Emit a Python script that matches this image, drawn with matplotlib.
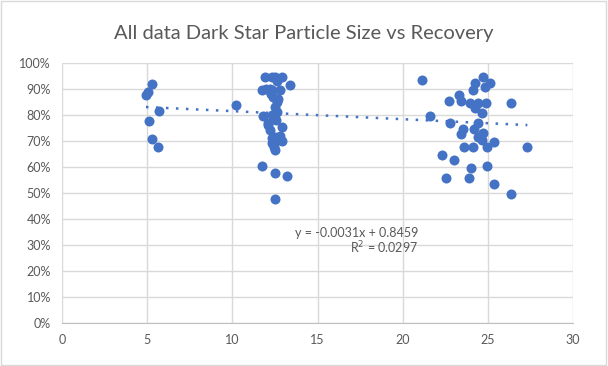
import matplotlib
matplotlib.use('Agg')
import matplotlib.pyplot as plt
from matplotlib.ticker import PercentFormatter
import numpy as np

# particle size (x) and recovery (y, fraction)
size = [4.93, 5.07, 5.27, 5.71, 5.13, 5.30, 5.66,
        10.2,
        11.92, 12.5, 12.9, 13.39, 11.73, 12.31, 12.8, 12.4, 12.6, 12.5,
        12.6, 11.8, 12.3, 12.9, 12.1, 12.2, 12.5, 12.7, 12.3, 12.45, 12.5,
        11.73, 12.5, 13.2, 12.5, 12.2, 12.7, 12.0, 12.55,
        12.3, 12.8, 12.35, 12.9, 12.1, 12.6, 12.25,
        21.12, 24.74, 24.25, 25.13, 24.84, 24.15, 23.33, 22.72, 23.41,
        23.96, 24.45, 24.9, 26.35, 24.25, 24.64, 21.6, 22.78, 24.45,
        23.53, 24.21, 23.41, 24.74, 24.45, 24.64, 25.37, 23.62, 24.15,
        24.93, 27.32, 22.31, 23.02, 24.02, 24.94, 22.53, 23.92, 25.37, 26.35]
recovery = [0.877, 0.89, 0.918, 0.817, 0.777, 0.708, 0.677,
            0.838,
            0.947, 0.947, 0.947, 0.915, 0.896, 0.896, 0.896, 0.87, 0.851, 0.832,
            0.813, 0.796, 0.80, 0.755, 0.762, 0.742, 0.717, 0.704, 0.691, 0.678, 0.665,
            0.605, 0.576, 0.567, 0.477, 0.90, 0.86, 0.90, 0.78,
            0.947, 0.72, 0.71, 0.70, 0.77, 0.93, 0.88,
            0.935, 0.947, 0.924, 0.924, 0.909, 0.896, 0.877, 0.855, 0.855,
            0.845, 0.847, 0.847, 0.847, 0.826, 0.807, 0.796, 0.768, 0.768,
            0.746, 0.746, 0.727, 0.73, 0.717, 0.704, 0.697, 0.676, 0.676,
            0.676, 0.678, 0.646, 0.627, 0.595, 0.604, 0.556, 0.556, 0.535, 0.496]

# linear trendline from the chart label
slope = -0.0031
intercept = 0.8459
r2 = 0.0297

blue = '#4472C4'
grey = '#595959'

plt.rcParams['font.family'] = ['Lato', 'DejaVu Sans']

fig = plt.figure(figsize=(6.08, 3.66), dpi=100)
ax = fig.add_axes([62 / 608, 1 - 323 / 366, 511 / 608, 260 / 366])

ax.scatter(size, recovery, s=52, color=blue, zorder=3, linewidths=0)

tx = np.array([min(size), max(size)])
ax.plot(tx, slope * tx + intercept, color=blue, linestyle=(0, (1, 3)),
        linewidth=1.8, zorder=2)

ax.text(20.9, 0.345, f'y = {slope}x + {intercept}', ha='right', va='center',
        fontsize=9, color=grey)
ax.text(20.9, 0.288, f'R$^2$ = {r2}', ha='right', va='center',
        fontsize=9, color=grey)

ax.set_xlim(0, 30)
ax.set_ylim(0, 1)
ax.set_xticks(range(0, 31, 5))
ax.set_yticks(np.arange(0, 1.01, 0.1))
ax.yaxis.set_major_formatter(PercentFormatter(1.0, decimals=0))
ax.grid(True, color='#d9d9d9', linewidth=1)
ax.set_axisbelow(True)
for s in ax.spines.values():
    s.set_visible(False)
ax.spines['bottom'].set_visible(True)
ax.spines['bottom'].set_color('#bfbfbf')
ax.tick_params(length=0, labelsize=9, colors=grey, pad=8)

fig.text(0.5, 1 - 33 / 366, 'All data Dark Star Particle Size vs Recovery',
         ha='center', va='center', fontsize=14.5, color=grey)

fig.patches.append(plt.Rectangle((0.002, 0.003), 0.995, 0.994, transform=fig.transFigure,
                                 fill=False, edgecolor='#d9d9d9', linewidth=1))

fig.savefig('out.png', dpi=100)
